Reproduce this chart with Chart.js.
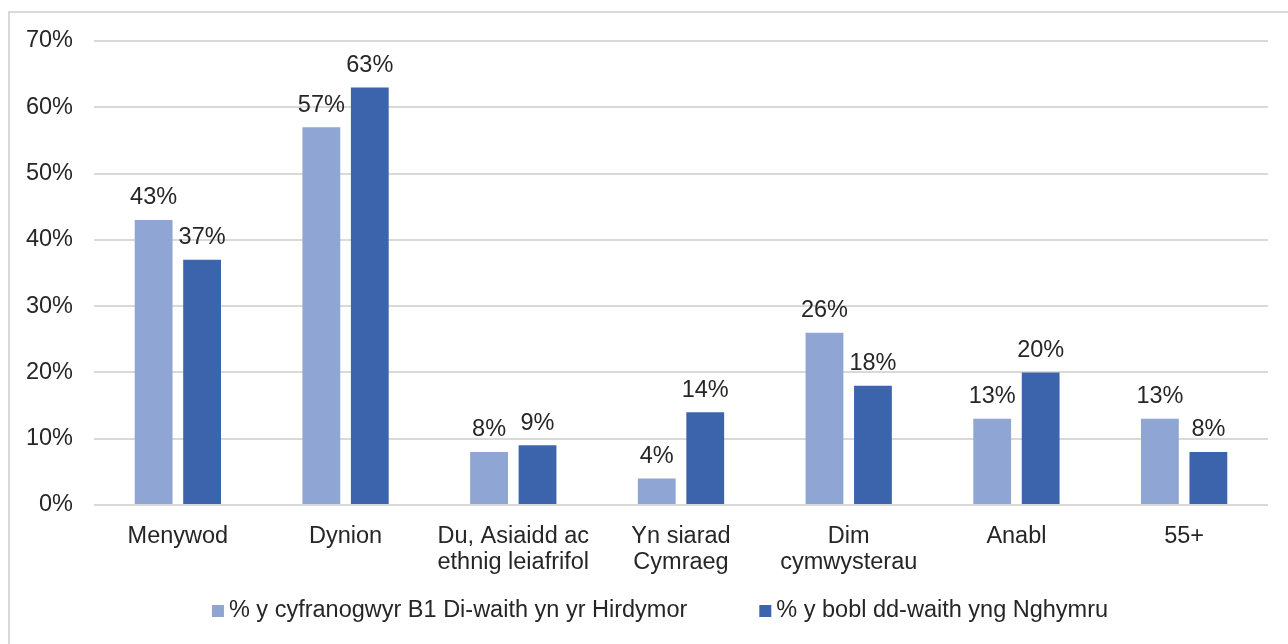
<!DOCTYPE html>
<html>
<head>
<meta charset="utf-8">
<script src="https://cdn.jsdelivr.net/npm/chart.js@4"></script>
<style>
html,body{margin:0;padding:0;background:#fff;}
#wrap{position:relative;width:1288px;height:644px;}
</style>
</head>
<body>
<div id="wrap"><canvas id="c" width="1288" height="644"></canvas></div>
<script>
const categories = [
  'Menywod',
  'Dynion',
  ['Du, Asiaidd ac', 'ethnig leiafrifol'],
  ['Yn siarad', 'Cymraeg'],
  ['Dim', 'cymwysterau'],
  'Anabl',
  '55+'
];
const seriesNames = [
  '% y cyfranogwyr B1 Di-waith yn yr Hirdymor',
  '% y bobl dd-waith yng Nghymru'
];
const participants = [43, 57, 8, 4, 26, 13, 13];
const walesPeople = [37, 63, 9, 14, 18, 20, 8];
const yTicks = [0, 10, 20, 30, 40, 50, 60, 70];

const FONT = "'Liberation Sans', Arial, sans-serif";
const FS = 23.5;
const TEXT = '#262626';

const framePlugin = {
  id: 'frame',
  beforeDraw(chart) {
    const ctx = chart.ctx;
    ctx.save();
    ctx.fillStyle = '#fff';
    ctx.fillRect(0, 0, chart.width, chart.height);
    ctx.strokeStyle = '#d9d9d9';
    ctx.lineWidth = 2;
    ctx.beginPath();
    ctx.moveTo(9, chart.height);
    ctx.lineTo(9, 12);
    ctx.lineTo(chart.width, 12);
    ctx.stroke();
    ctx.restore();
  }
};

const labelPlugin = {
  id: 'valueLabels',
  afterDatasetsDraw(chart) {
    const ctx = chart.ctx;
    ctx.save();
    ctx.font = FS + 'px ' + FONT;
    ctx.fillStyle = TEXT;
    ctx.textAlign = 'center';
    ctx.textBaseline = 'middle';
    chart.data.datasets.forEach((ds, i) => {
      const meta = chart.getDatasetMeta(i);
      meta.data.forEach((bar, j) => {
        ctx.fillText(ds.data[j] + '%', bar.x, bar.y - 22);
      });
    });
    ctx.restore();
  }
};

const legendPlugin = {
  id: 'customLegend',
  afterDraw(chart) {
    const ctx = chart.ctx;
    ctx.save();
    ctx.font = FS + 'px ' + FONT;
    ctx.textBaseline = 'middle';
    ctx.textAlign = 'left';
    const box = 12, gapText = 5, gapItem = 72;
    const items = chart.data.datasets.map(ds => ({
      text: ds.label, color: ds.backgroundColor, w: ctx.measureText(ds.label).width
    }));
    let total = 0;
    items.forEach((it, i) => { total += box + gapText + it.w + (i ? gapItem : 0); });
    let x = 660 - total / 2;
    const y = 611;
    items.forEach(it => {
      ctx.fillStyle = it.color;
      ctx.fillRect(x, y - box / 2, box, box);
      x += box + gapText;
      ctx.fillStyle = TEXT;
      ctx.fillText(it.text, x, y);
      x += it.w + gapItem;
    });
    ctx.restore();
  }
};

new Chart(document.getElementById('c'), {
  type: 'bar',
  data: {
    labels: categories,
    datasets: [
      { label: seriesNames[0], data: participants, backgroundColor: '#8FA5D4' },
      { label: seriesNames[1], data: walesPeople, backgroundColor: '#3C64AC' }
    ]
  },
  options: {
    responsive: false,
    animation: false,
    events: [],
    layout: { padding: { top: 41, right: 20, left: 0, bottom: 0 } },
    datasets: { bar: { categoryPercentage: 0.578, barPercentage: 0.78 } },
    plugins: { legend: { display: false }, tooltip: { enabled: false } },
    scales: {
      x: {
        grid: { display: false, drawTicks: false },
        border: { display: false },
        ticks: { color: TEXT, font: { family: FONT, size: FS, lineHeight: 1.1 }, padding: 19, maxRotation: 0, autoSkip: false },
        afterFit(scale) { scale.height = 139; }
      },
      y: {
        min: 0, max: 70,
        afterBuildTicks(scale) { scale.ticks = yTicks.map(v => ({ value: v })); },
        grid: { color: '#d9d9d9', lineWidth: 2, drawTicks: false },
        border: { display: false },
        ticks: { color: TEXT, font: { family: FONT, size: FS }, padding: 21, callback: v => v + '%' },
        afterFit(scale) { scale.width = 94; }
      }
    }
  },
  plugins: [framePlugin, labelPlugin, legendPlugin]
});
</script>
</body>
</html>
